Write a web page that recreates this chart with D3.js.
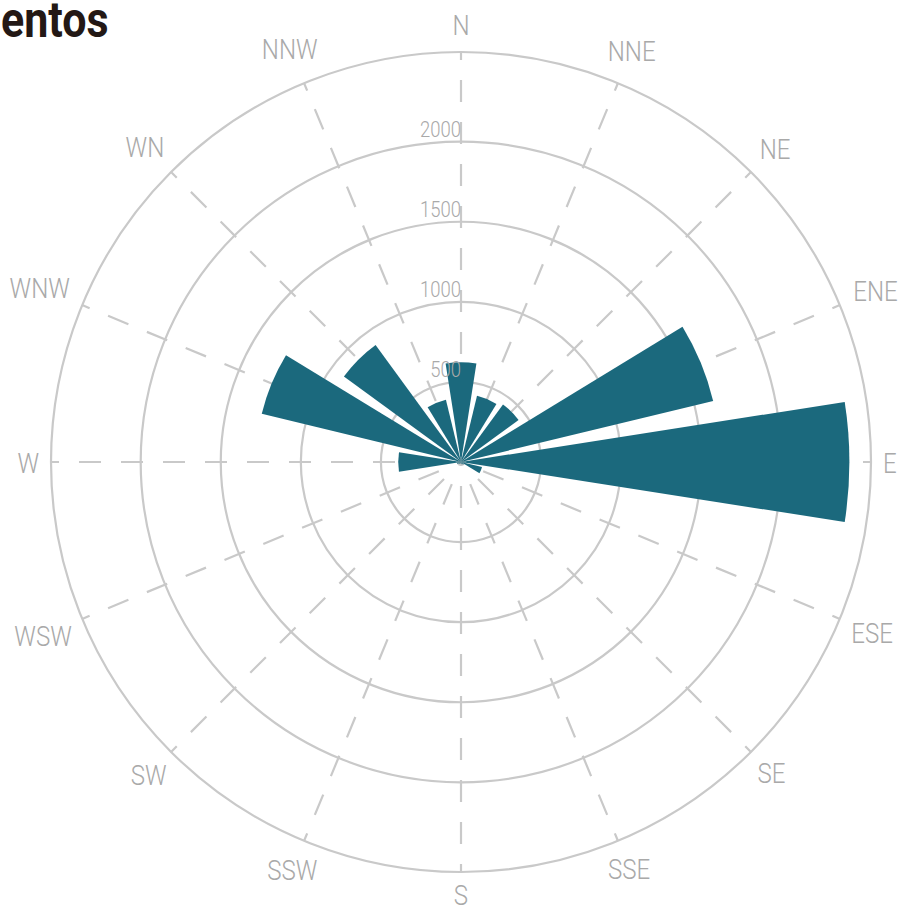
<!DOCTYPE html>
<html>
<head>
<meta charset="utf-8">
<script src="https://cdn.jsdelivr.net/npm/d3@7"></script>
<style>
  html, body { margin: 0; padding: 0; background: #fff; }
  svg { display: block; }
</style>
</head>
<body>
<svg id="chart" width="898" height="907"></svg>
<script>
const directions = ["N","NNE","NE","ENE","E","ESE","SE","SSE","S","SSW","SW","WSW","W","WNW","WN","NNW"];
const counts = [623, 425, 445, 1620, 2425, 135, 20, 15, 10, 10, 15, 25, 392, 1280, 905, 400];
const radialTicks = [500, 1000, 1500, 2000];
const titleText = "entos";

const W = 898, H = 907;
const cx = 461, cy = 462;
const outerR = 410;
const maxDomain = 2560;

const svg = d3.select("#chart");
const font = "Roboto, 'Noto Sans', sans-serif";
const gridColor = "#c9c9c9";
const labelColor = "#a9a9a9";
const squeeze = 0.86;

const r = d3.scaleLinear().domain([0, maxDomain]).range([0, outerR]);
const angle = d3.scaleBand().domain(directions).range([0, 2 * Math.PI]).padding(0.2);
const step = 2 * Math.PI / directions.length;
const dirAngle = (d, i) => i * step;

const g = svg.append("g").attr("transform", `translate(${cx},${cy})`);

// grid circles
g.append("g").selectAll("circle")
  .data(radialTicks)
  .join("circle")
  .attr("r", d => r(d))
  .attr("fill", "none")
  .attr("stroke", gridColor)
  .attr("stroke-width", 2.2);

g.append("circle")
  .attr("r", outerR)
  .attr("fill", "none")
  .attr("stroke", gridColor)
  .attr("stroke-width", 2.2);

// radial dashed lines (drawn from outer circle inward)
g.append("g").selectAll("line")
  .data(directions)
  .join("line")
  .attr("x1", (d, i) => outerR * Math.sin(dirAngle(d, i)))
  .attr("y1", (d, i) => -outerR * Math.cos(dirAngle(d, i)))
  .attr("x2", 0)
  .attr("y2", 0)
  .attr("stroke", gridColor)
  .attr("stroke-width", 2.2)
  .attr("stroke-dasharray", "22,20")
  .attr("stroke-dashoffset", 14);

// bars
const arc = d3.arc()
  .innerRadius(0)
  .outerRadius(d => r(d.v))
  .startAngle(d => dirAngle(d.k, d.i) - angle.bandwidth() / 2)
  .endAngle(d => dirAngle(d.k, d.i) + angle.bandwidth() / 2);

g.append("g").selectAll("path")
  .data(directions.map((k, i) => ({ k, i, v: counts[i] })))
  .join("path")
  .attr("d", arc)
  .attr("fill", "#1b697d");

// radial tick labels
g.append("g").selectAll("text")
  .data(radialTicks)
  .join("text")
  .attr("transform", d => `translate(0,${-r(d) - 5}) scale(0.84,1)`)
  .attr("text-anchor", "end")
  .attr("font-family", font)
  .attr("font-weight", 300)
  .attr("font-size", 22)
  .attr("fill", labelColor)
  .text(d => d);

// direction labels
const R0 = 422, capH = 20;
const dl = g.append("g").selectAll("text")
  .data(directions)
  .join("text")
  .attr("text-anchor", "middle")
  .attr("dominant-baseline", "central")
  .attr("font-family", font)
  .attr("font-weight", 300)
  .attr("font-size", 28)
  .attr("fill", labelColor)
  .text(d => d);

dl.each(function(d, i) {
  const a = dirAngle(d, i);
  const w = this.getComputedTextLength() * squeeze;
  const c = Math.cos(a);
  const rr = R0 + (w / 2) * Math.abs(Math.sin(a)) + (capH / 2) * Math.abs(c) + (c > 0 ? 6 * c : 0);
  const x = rr * Math.sin(a), y = -rr * c + 1;
  d3.select(this).attr("transform", `translate(${x},${y}) scale(${squeeze},1)`);
});

// title
svg.append("text")
  .attr("transform", "translate(1,37) scale(0.86,1)")
  .attr("font-family", font)
  .attr("font-weight", "bold")
  .attr("font-size", 50)
  .attr("fill", "#231815")
  .text(titleText);
</script>
</body>
</html>
